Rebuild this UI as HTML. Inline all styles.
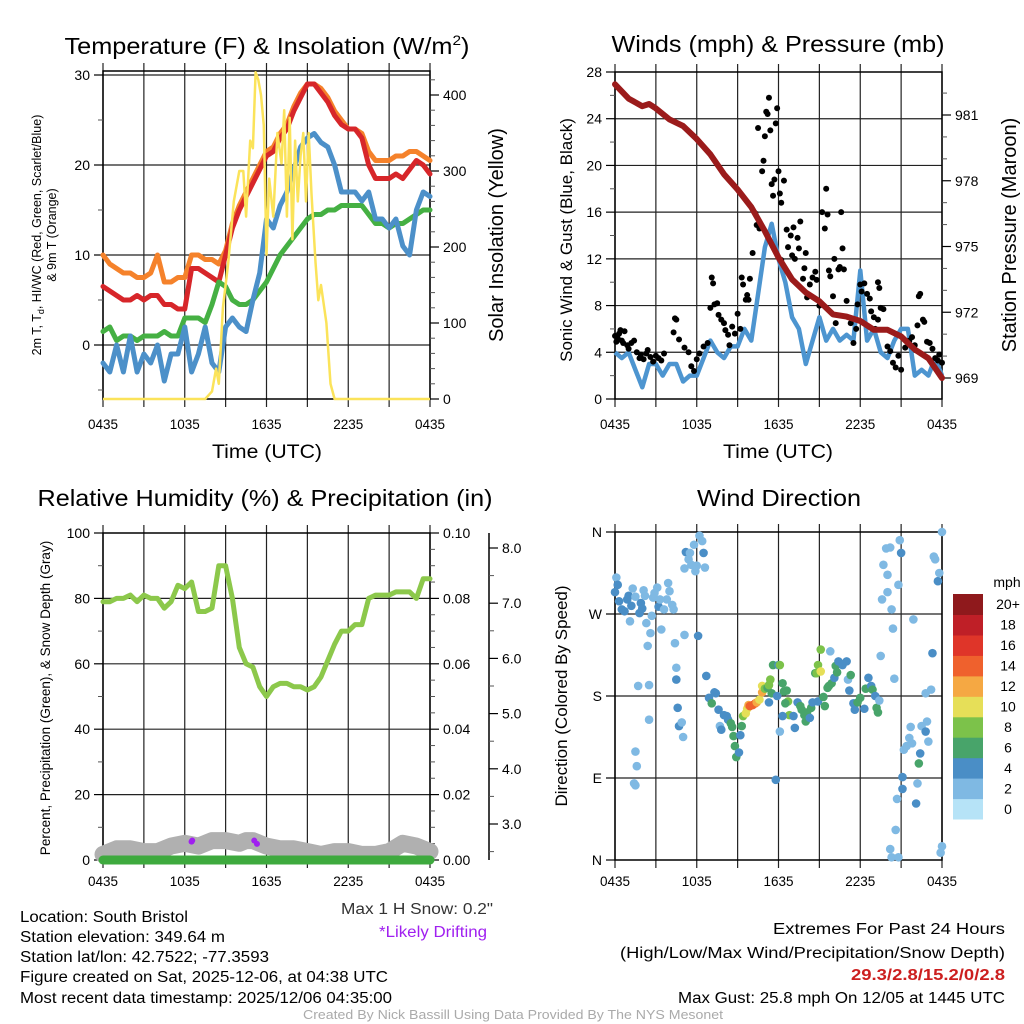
<!DOCTYPE html>
<html><head><meta charset="utf-8"><style>
html,body{margin:0;padding:0;background:#fff}
svg{display:block;font-family:"Liberation Sans",sans-serif}
</style></head><body>
<svg id="c" width="1024" height="1024" viewBox="0 0 1024 1024" xmlns="http://www.w3.org/2000/svg">
<rect width="1024" height="1024" fill="#fff"/>
<g id="g"></g>
<text x="267" y="54" font-size="23" text-anchor="middle" textLength="405" lengthAdjust="spacingAndGlyphs">Temperature (F) &amp; Insolation (W/m<tspan dy="-9" font-size="14">2</tspan><tspan dy="9">)</tspan></text>
<text x="778" y="52" font-size="23" text-anchor="middle" textLength="333" lengthAdjust="spacingAndGlyphs">Winds (mph) &amp; Pressure (mb)</text>
<text x="265" y="506" font-size="23" text-anchor="middle" textLength="455" lengthAdjust="spacingAndGlyphs">Relative Humidity (%) &amp; Precipitation (in)</text>
<text x="779" y="506" font-size="23" text-anchor="middle" textLength="164" lengthAdjust="spacingAndGlyphs">Wind Direction</text>
<text x="267" y="458" font-size="19" text-anchor="middle" textLength="110" lengthAdjust="spacingAndGlyphs">Time (UTC)</text>
<text x="778" y="458" font-size="19" text-anchor="middle" textLength="110" lengthAdjust="spacingAndGlyphs">Time (UTC)</text>
<text transform="translate(41,235) rotate(-90)" font-size="12.5" text-anchor="middle">2m T, T<tspan font-size="9" dy="3">d</tspan><tspan dy="-3">, HI/WC (Red, Green, Scarlet/Blue)</tspan></text>
<text transform="translate(56,235) rotate(-90)" font-size="12.5" text-anchor="middle">&amp; 9m T (Orange)</text>
<text transform="translate(503,235) rotate(-90)" font-size="20" text-anchor="middle">Solar Insolation (Yellow)</text>
<text transform="translate(572,240) rotate(-90)" font-size="17" text-anchor="middle">Sonic Wind &amp; Gust (Blue, Black)</text>
<text transform="translate(1016,235) rotate(-90)" font-size="20" text-anchor="middle">Station Pressure (Maroon)</text>
<text transform="translate(50,698) rotate(-90)" font-size="13.5" text-anchor="middle">Percent, Precipitation (Green), &amp; Snow Depth (Gray)</text>
<text transform="translate(567,696) rotate(-90)" font-size="17" text-anchor="middle">Direction (Colored By Speed)</text>
<text x="1007" y="587" font-size="14" text-anchor="middle">mph</text>
<g font-size="15.5">
<text x="20" y="922" textLength="168" lengthAdjust="spacingAndGlyphs">Location: South Bristol</text>
<text x="20" y="942" textLength="205" lengthAdjust="spacingAndGlyphs">Station elevation: 349.64 m</text>
<text x="20" y="962" textLength="249" lengthAdjust="spacingAndGlyphs">Station lat/lon: 42.7522; -77.3593</text>
<text x="20" y="982" textLength="368" lengthAdjust="spacingAndGlyphs">Figure created on Sat, 2025-12-06, at 04:38 UTC</text>
<text x="20" y="1003" textLength="372" lengthAdjust="spacingAndGlyphs">Most recent data timestamp: 2025/12/06 04:35:00</text>
<text x="341" y="914" fill="#333" textLength="152" lengthAdjust="spacingAndGlyphs">Max 1 H Snow: 0.2"</text>
<text x="379" y="937" fill="#a020f0" textLength="108" lengthAdjust="spacingAndGlyphs">*Likely Drifting</text>
<text x="1005" y="934" text-anchor="end" textLength="232" lengthAdjust="spacingAndGlyphs">Extremes For Past 24 Hours</text>
<text x="1005" y="958" text-anchor="end" textLength="385" lengthAdjust="spacingAndGlyphs">(High/Low/Max Wind/Precipitation/Snow Depth)</text>
<text x="1005" y="980" text-anchor="end" fill="#cc1f1f" font-weight="bold" textLength="154" lengthAdjust="spacingAndGlyphs">29.3/2.8/15.2/0/2.8</text>
<text x="1005" y="1003" text-anchor="end" textLength="327" lengthAdjust="spacingAndGlyphs">Max Gust: 25.8 mph On 12/05 at 1445 UTC</text>
<text x="513" y="1019" text-anchor="middle" fill="#aaa" font-size="13" textLength="420" lengthAdjust="spacingAndGlyphs">Created By Nick Bassill Using Data Provided By The NYS Mesonet</text>
</g>
</svg>
<script>
const timeTickLabels=["0435","1035","1635","2235","0435"];
const timeTickHours=[0,6,12,18,24];
const halfHours=[0,0.5,1,1.5,2,2.5,3,3.5,4,4.5,5,5.5,6,6.5,7,7.5,8,8.5,9,9.5,10,10.5,11,11.5,12,12.5,13,13.5,14,14.5,15,15.5,16,16.5,17,17.5,18,18.5,19,19.5,20,20.5,21,21.5,22,22.5,23,23.5,24];
const tempRed=[6.5,6,5.5,5,5,5.5,5,5.5,5.5,4.5,4.5,4,4,8.5,8.5,8,7.5,7,10,13,15,16.5,18,19.5,21,21.5,23,24,26,27.5,29,29,28,27,25.5,24.5,24,24,23,20,18.5,18.5,18.5,19,18.5,19.5,20.5,20,19];
const tempOrange=[10,9,8.5,8,8,7.5,7.5,8,10,7,7,7.5,7.5,10,10,9.5,9.5,9,10.5,13.5,15.5,17,18.5,20,21.5,22,23.5,24.5,26.5,28,29,29,28.5,27.5,26,25,24,24,23.5,21.5,20.5,20.5,20.5,21,21,21.5,21.5,21,20.5];
const tempBlue=[-2,-3,0,-3,1,-3,-1,-2,0,-4,-1,-1,2,-3,-1,2,-2,-3,2,3,2,1.5,5,8,14,13,15.5,17,19.5,22,23,23.5,22.5,22,20,17,17,17,16,17,14,14,13,14,11,10,15,17,16.5];
const dewGreen=[1.5,2,0.5,1,1,0.5,1,1,1,1.5,1,1,3,3,3,2.5,4.5,7,6.5,5,4.5,4.5,5,6,7,8.5,10,11,12,13,14,14.5,14.5,15,15,15.5,15.5,15.5,15.5,14.5,13.5,13.5,13,13.5,13.5,14,14.5,15,15];
const solarHours=[0,7.5,8,8.3,8.5,8.8,9.2,9.6,10,10.3,10.5,10.8,11,11.2,11.4,11.6,11.8,12,12.2,12.5,12.8,13.1,13.3,13.5,13.7,13.9,14.1,14.3,14.5,14.7,14.9,15.1,15.3,15.6,15.8,16,16.4,16.7,17,24];
const solarValues=[0,0,10,40,20,120,180,260,300,300,240,340,330,430,420,400,360,190,290,240,350,310,380,240,370,210,340,260,320,350,260,350,270,180,130,150,100,20,0,0];
const windBlue=[4,3.5,4,2.5,1,3,3,2,3,3,1.5,2,2,3.5,5,4,3.5,4.5,4.5,6,5,9,13,15,12,10,7,6,3,5,7,5,6,5,5.5,5,11,5,6,4,3.5,5,6,6,2,2.5,2,3.5,2];
const pressHours=[0,1,2,2.5,3,4,5,6,7,8,9,10,11,12,13,14,15,16,17,18,19,20,21,22,23,24];
const pressure=[982.4,981.75,981.4,981.5,981.3,980.8,980.5,979.9,979.2,978.3,977.6,976.8,975.7,974.5,973.5,972.9,972.5,971.9,971.8,971.6,971.2,971.2,970.9,970.3,969.9,969.0];
const gustHours=[0,0.1,0.2,0.3,0.4,0.5,0.6,0.7,0.9,1,1.2,1.4,1.6,1.8,1.9,2.1,2.3,2.4,2.6,2.8,3,3.2,3.4,3.6,4.3,4.4,4.5,4.7,5.1,5.4,5.6,5.8,6,6.2,6.5,6.8,7,7.1,7.2,7.3,7.5,7.6,7.8,8,8.1,8.3,8.4,8.6,8.8,9,9.2,9.3,9.4,9.6,9.7,9.8,9.9,10.1,10.3,10.4,10.5,10.6,10.8,10.9,11,11.1,11.2,11.3,11.4,11.5,11.6,11.7,11.8,11.9,12,12.1,12.2,12.4,12.2,12.6,12.9,12.7,13,13.1,13.2,13.4,13.6,13.5,13.9,14,13.8,14.1,14.5,14.3,14.7,14.8,15,15.2,15.4,15.5,15.6,15.7,15.8,16,16.1,16.2,16.4,16.5,16.6,16.7,16.8,17,17.3,17.5,17.7,17.8,18,18.1,18.3,18.5,18.7,18.8,19,19.1,19.3,19.5,19.7,19.3,19.4,20,20.2,20.4,20.6,20.8,21,21.3,21.6,21.8,22,22.2,22.3,22.4,22.6,22.7,22.9,23.1,23.3,23.5,23.7,23.8,24];
const gustValues=[5.4,4.9,5.2,5.6,5.9,5,4.8,5.8,4.6,4.3,4.8,5,4,3.5,3.8,3.4,3.9,4.2,3.6,3.2,3.7,3.5,3.3,3.9,5.7,6.9,6.8,5.1,4.4,4,2.8,2.4,3.4,3.9,4.5,4.8,7.8,10.4,9.9,8.1,8.2,7.2,6.8,6.5,5.9,5.5,4.6,6.2,5.6,7.3,6,10.4,9.8,8.5,8.9,8.5,10.3,12.5,15.9,14.9,23.2,14.6,19.5,20.4,22.5,24.6,24.4,25.8,23,18.4,17.4,18.8,23.6,24.9,19.5,17.6,16.8,18.7,11.9,14.5,14,13,12.3,14.7,12,13.8,15.2,12.9,11.2,12.5,10.3,8.7,10.4,9.8,10.9,10.2,8,16,14.6,18,15.8,11,10.5,8.8,12,6.5,11.1,11.3,16,12.9,11.1,8.4,6.5,4.8,6,8.1,9.8,9.2,9.9,9,8.6,7.5,7,6,6.8,7.8,7.7,10,9.5,4.5,4.1,3.1,2.7,3.7,2.5,4.4,5,5.3,4.6,6.3,8.8,9,6.8,6.6,4.9,4.8,4.3,3.5,3.3,3.8,3.1];
const rhValues=[79,79,80,80,81,79,81,80,80,77,79,84,83,85,76,76,77,90,90,80,65,60,59,53,50,53,54,54,53,53,52,53,56,61,66,70,70,72,72,80,81,81,81,82,82,82,80,86,86];
const snowHours=[0,1,2,3,4,5,6,7,8,9,10,10.5,11,12,13,14,15,16,17,18,19,20,21,22,23,24];
const snowDepth=[2.45,2.55,2.55,2.5,2.5,2.6,2.65,2.6,2.7,2.7,2.65,2.7,2.7,2.6,2.55,2.55,2.5,2.45,2.5,2.5,2.45,2.45,2.5,2.65,2.6,2.5];
const driftHours=[6.5,6.55,11.1,11.3];
const driftDepth=[2.68,2.7,2.7,2.64];
const precipHours=[0,24];
const precipValues=[0,0];
const dirHours=[0,0.1,0.2,0.3,0.5,0.7,0.9,1,1.1,1.2,1.3,1.5,1.8,1.9,2,2.1,2.2,2.3,2.4,2.5,2.5,2.6,2.7,2.8,2.9,3.1,3.2,3.3,3.4,3.6,3.8,3.9,4,4.2,4.3,4.4,4.5,4.5,4.6,4.7,4.9,5,5.1,1.7,1.5,1.6,1.4,1.5,5.1,5.2,5.4,5.5,5.6,5.8,5.9,6,6.2,6.4,6.5,6.6,6.1,6.7,6.9,7.1,7.3,7.4,7.6,7.7,7.8,8,8.2,8.3,8.5,8.6,8.7,8.8,8.9,9.1,9.2,9.3,9.4,9.6,9.7,9.8,9.9,10.1,10.3,10.4,10.6,10.8,10.8,11,11.2,11.3,11.4,11.5,11.3,11.6,11.9,12,12.1,12.3,12.4,12.6,12.7,12.8,12.5,12.3,12.1,11.8,13.1,13.2,13.4,13.6,13.7,13.9,14,14.1,14.3,14.4,14.5,14.7,14.8,14.9,14.9,15.1,15.1,15.3,15.4,15.6,15.7,15.8,15.9,16.1,16.2,16.3,16.4,16.7,17,17.1,17.2,17.3,17.5,17.6,17.8,18,18.3,18.4,18.6,18.8,18.9,19.1,19.2,19.4,19.3,19.5,19.6,19.7,19.9,20,20,20.2,20.3,20.4,20.5,20.8,20.9,21,21.1,21.1,20.7,20.6,20.2,20.3,20.8,21.2,21.4,21.6,21.7,21.8,21.9,22.2,22.1,22.3,22.4,22.5,22.8,22.9,23,22.8,23.2,23.3,23.4,23.5,23.7,23.8,24,23.9,24];
const dirDegrees=[294,310,302,284,275,273,286,290,262,279,298,289,271,282,276,296,290,260,235,192,154,249,268,288,293,299,278,286,253,275,286,304,295,280,275,238,211,198,167,147,151,135,247,191,119,103,84,82,320,338,330,337,324,346,317,323,356,350,337,321,246,202,178,172,184,183,165,147,143,159,158,154,150,146,136,125,113,118,137,147,158,161,166,170,169,170,172,173,176,184,191,188,189,192,198,183,173,214,180,214,214,194,185,186,174,159,172,158,141,88,158,145,173,169,165,159,152,162,156,167,173,205,205,174,214,207,231,179,169,189,191,229,194,200,213,206,218,214,218,198,186,203,172,165,173,178,166,188,200,191,187,180,167,175,162,224,286,324,342,294,313,343,275,254,199,302,351,337,91,78,67,33,12,3,3,121,125,134,146,128,264,84,62,106,117,147,141,152,130,183,187,227,333,330,306,315,360,8,15];
const dirSpeeds=[3,2,3,4,4,3,4,4,2,4,2,2,3,4,4,2,2,2,2,2,1,2,2,2,2,2,4,2,2,2,2,2,2,2,2,2,2,4,4,4,2,1,2,1,2,1,1,1,2,4,2,2,2,1,1,2,2,2,4,2,4,4,4,6,4,4,4,2,4,4,4,4,6,6,6,6,6,4,4,6,8,10,10,12,14,14,14,12,10,12,10,8,6,8,8,6,4,6,4,4,8,6,6,6,8,8,6,4,2,4,4,4,4,6,6,6,6,6,4,6,4,6,8,4,8,10,8,6,6,6,6,2,6,4,6,6,4,4,4,2,4,6,4,4,6,6,4,6,4,4,6,4,6,2,6,2,1,2,2,2,2,2,1,2,1,1,1,4,4,4,1,1,2,2,2,2,2,2,2,2,1,2,4,6,4,2,4,2,2,2,2,4,2,2,4,1,2,2,2];
const speedBinLabels=["0","2","4","6","8","10","12","14","16","18","20+"];
const speedBinColors=["#b6e3f7","#7fb9e3","#4a8ec6","#48a46a","#7cc24a","#e6df58","#f5a843","#ef612d","#df3529","#bf1f27","#8f191c"];

const NS="http://www.w3.org/2000/svg";
const G=document.getElementById('g');
function el(tag,attrs,parent){const e=document.createElementNS(NS,tag);for(const k in attrs)e.setAttribute(k,attrs[k]);(parent||G).appendChild(e);return e;}
function txt(x,y,s,size,anchor,parent){const t=el('text',{x:x,y:y,'font-size':size,'text-anchor':anchor||'middle'},parent);t.textContent=s;return t;}
function lin(d0,d1,r0,r1){return v=>r0+(v-d0)*(r1-r0)/(d1-d0);}
function poly(xs,ys,fx,fy){return xs.map((x,i)=>fx(x).toFixed(1)+','+fy(ys[i]).toFixed(1)).join(' ');}

function panelFrame(name,x0,x1,y0,y1,xs,gridYs,labelY){
  const g=el('g',{});
  
  
  for(let h=0;h<=24;h+=3){const x=xs(h);el('line',{x1:x,y1:y0-8,x2:x,y2:y1+8,stroke:'#222','stroke-width':1.2},g);}
  gridYs.forEach(y=>el('line',{x1:x0,y1:y,x2:x1,y2:y,stroke:'#222','stroke-width':1.2},g));
  el('rect',{x:x0,y:y0,width:x1-x0,height:y1-y0,fill:'none',stroke:'#000','stroke-width':1.5},g);
  timeTickHours.forEach((h,i)=>{const t=txt(xs(h),labelY,timeTickLabels[i],13.5,'middle',g);
    
    });
  return g;
}
function yTicks(vals,fy,x,dir,labels,size,anchor,minor){
  const g=el('g',{});
  
  
  vals.forEach((v,i)=>{const y=fy(v);el('line',{x1:x,y1:y,x2:x+dir*9,y2:y,stroke:'#000','stroke-width':1.2},g);
    txt(x+dir*13,y+5,labels[i],size,anchor,g);});
  (minor||[]).forEach(v=>{const y=fy(v);el('line',{x1:x,y1:y,x2:x+dir*5,y2:y,stroke:'#555','stroke-width':1},g);});
}

/* Panel 1: temperature */
(function(){
  const x=lin(0,24,103,430), yT=lin(0,30,345,75), yS=lin(0,400,399,95);
  panelFrame('temperature-panel',103,430,71,399,x,[yT(0),yT(10),yT(20),yT(30)],429);
  yTicks([0,10,20,30],yT,103,-1,["0","10","20","30"],14,'end',[-5,5,15,25]);
  yTicks([0,100,200,300,400],yS,430,1,["0","100","200","300","400"],14,'start',[20,40,60,80,120,140,160,180,220,240,260,280,320,340,360,380,420]);
  const s=[[tempOrange,'#f5822b','temp-9m-line'],[tempRed,'#d7262a','temp-2m-line'],[dewGreen,'#45b043','dewpoint-line'],[tempBlue,'#4c90c9','windchill-line']];
  s.forEach(([d,c,n])=>{const p=el('polyline',{points:poly(halfHours,d,x,yT),fill:'none',stroke:c,'stroke-width':5,'stroke-linejoin':'round','stroke-linecap':'round'});
    
    });
  const p=el('polyline',{points:poly(solarHours,solarValues,x,yS),fill:'none',stroke:'#fbe35a','stroke-width':2.5,'stroke-linejoin':'round'});
  
  
})();

/* Panel 2: winds & pressure */
(function(){
  const x=lin(0,24,615,942), yW=lin(0,28,399,72), yP=lin(969,981,378,115);
  panelFrame('wind-panel',615,942,72,399,x,[4,8,12,16,20,24].map(yW),429);
  yTicks([0,4,8,12,16,20,24,28],yW,615,-1,["0","4","8","12","16","20","24","28"],14,'end',[2,6,10,14,18,22,26]);
  yTicks([969,972,975,978,981],yP,942,1,["969","972","975","978","981"],14,'start',[970,971,973,974,976,977,979,980,982]);
  const b=el('polyline',{points:poly(halfHours,windBlue,x,yW),fill:'none',stroke:'#4d95d0','stroke-width':4.5,'stroke-linejoin':'round'});
  
  
  const gg=el('g',{});
  
  
  gustHours.forEach((h,i)=>{const c=el('circle',{cx:x(h),cy:yW(gustValues[i]),r:3,fill:'#000'},gg);
    
    });
  const p=el('polyline',{points:poly(pressHours,pressure,x,yP),fill:'none',stroke:'#9b1b1b','stroke-width':6,'stroke-linejoin':'round','stroke-linecap':'round'});
  
  
})();

/* Panel 3: RH, precip, snow */
(function(){
  const x=lin(0,24,103,430), yR=lin(0,100,860,533), yPr=lin(0,0.1,860,533), ySn=lin(3,8,824,548);
  panelFrame('humidity-panel',103,430,533,860,x,[20,40,60,80].map(yR),886);
  yTicks([0,20,40,60,80,100],yR,103,-1,["0","20","40","60","80","100"],14,'end',[10,30,50,70,90]);
  yTicks([0,0.02,0.04,0.06,0.08,0.1],yPr,430,1,["0.00","0.02","0.04","0.06","0.08","0.10"],14,'start',[0.005,0.01,0.015,0.025,0.03,0.035,0.045,0.05,0.055,0.065,0.07,0.075,0.085,0.09,0.095]);
  const ax=el('line',{x1:489,y1:533,x2:489,y2:860,stroke:'#000','stroke-width':1.5});
  
  
  yTicks([3,4,5,6,7,8],ySn,489,1,["3.0","4.0","5.0","6.0","7.0","8.0"],14,'start',[2.5,3.5,4.5,5.5,6.5,7.5]);
  const sn=el('polyline',{points:poly(snowHours,snowDepth,x,ySn),fill:'none',stroke:'#b0b0b0','stroke-width':17,'stroke-linejoin':'round','stroke-linecap':'round'});
  
  
  const pr=el('polyline',{points:poly(precipHours,precipValues,x,yPr),fill:'none',stroke:'#3eaa3e','stroke-width':9,'stroke-linecap':'round'});
  
  
  driftHours.forEach((h,i)=>{const c=el('circle',{cx:x(h),cy:ySn(driftDepth[i]),r:3,fill:'#a020f0'});
    
    });
  const rh=el('polyline',{points:poly(halfHours,rhValues,x,yR),fill:'none',stroke:'#8cc84b','stroke-width':5,'stroke-linejoin':'round','stroke-linecap':'round'});
  
  
})();

/* Panel 4: wind direction */
(function(){
  const x=lin(0,24,615,942), yD=lin(0,360,860,532);
  panelFrame('direction-panel',615,942,532,860,x,[90,180,270].map(yD),886);
  yTicks([0,90,180,270,360],yD,615,-1,["N","E","S","W","N"],14,'end',[]);
  function colorFor(s){let i=Math.min(10,Math.max(0,Math.round(s/2)));return speedBinColors[i];}
  const g=el('g',{});
  
  
  dirHours.forEach((h,i)=>{const c=el('circle',{cx:x(h),cy:yD(dirDegrees[i]),r:4.3,fill:colorFor(dirSpeeds[i])},g);
    
    });
  const cb=el('g',{});
  
  
  const n=speedBinLabels.length, top0=594, h=(819-594)/n;
  speedBinLabels.forEach((lab,i)=>{
    const top=top0+(n-1-i)*h;
    const r=el('rect',{x:953,y:top.toFixed(1),width:30,height:(h+0.5).toFixed(1),fill:speedBinColors[i]},cb);
    
    
    const t=txt(1008,(top+h/2+5).toFixed(1),lab,14,'middle',cb);
    
    
  });
})();
</script>
</body></html>
